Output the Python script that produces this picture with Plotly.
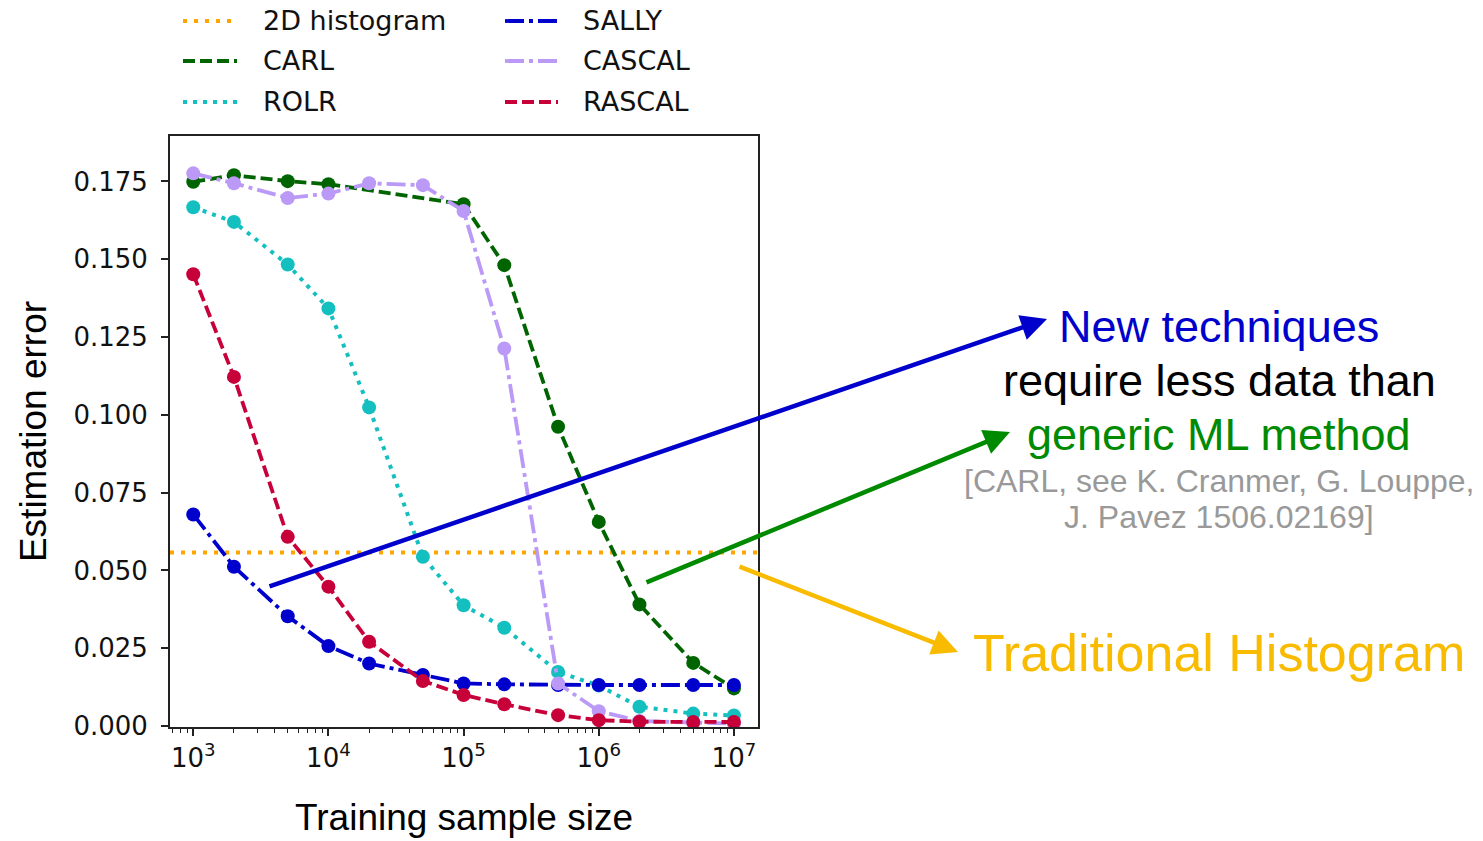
import plotly.graph_objects as go

# Training sample sizes
sample_sizes = [1e3, 2e3, 5e3, 1e4, 2e4, 5e4, 1e5, 2e5, 5e5, 1e6, 2e6, 5e6, 1e7]

# Estimation error per method (None = not evaluated)
carl = [0.1749, 0.1770, 0.1751, 0.1741, None, None, 0.1677, 0.1481, 0.0962, 0.0656, 0.0391, 0.0203, 0.0121]
rolr = [0.1667, 0.1620, 0.1483, 0.1342, 0.1024, 0.0544, 0.0388, 0.0316, 0.0174, 0.0130, 0.0062, 0.0040, 0.0034]
sally = [0.0680, 0.0512, 0.0353, 0.0257, 0.0201, 0.0164, 0.0137, 0.0134, 0.0132, 0.0132, 0.0132, 0.0132, 0.0132]
cascal = [0.1776, 0.1744, 0.1697, 0.1711, 0.1744, 0.1738, 0.1655, 0.1213, 0.0137, 0.0048, 0.0016, 0.0010, 0.0008]
rascal = [0.1452, 0.1122, 0.0608, 0.0448, 0.0271, 0.0145, 0.0100, 0.0070, 0.0035, 0.0019, 0.0014, 0.0013, 0.0013]
hist_2d = 0.0558

y_ticks = [0.0, 0.025, 0.05, 0.075, 0.1, 0.125, 0.15, 0.175]
x_ticks = [1e3, 1e4, 1e5, 1e6, 1e7]
x_ticktext = ["10<sup>3</sup>", "10<sup>4</sup>", "10<sup>5</sup>", "10<sup>6</sup>", "10<sup>7</sup>"]

W, H = 1483, 841
L, R, T, B = 170, 758, 136, 727  # plot area in pixels


def px(x):
    return (x - L) / (R - L)


def py(y):
    return (B - y) / (B - T)


styles = {
    "2D histogram": dict(color="#ffa500", dash="4px,7px", width=4),
    "CARL": dict(color="#006400", dash="12px,5px", width=3.8),
    "ROLR": dict(color="#14bfbf", dash="4px,6px", width=4),
    "SALLY": dict(color="#0000cd", dash="19px,5px,4px,5px", width=3.8),
    "CASCAL": dict(color="#bb99f7", dash="19px,5px,4px,5px", width=3.8),
    "RASCAL": dict(color="#c8003a", dash="12px,5px", width=3.8),
}

series = [("CARL", carl), ("ROLR", rolr), ("SALLY", sally), ("CASCAL", cascal), ("RASCAL", rascal)]

fig = go.Figure()
for name, vals in series:
    st = styles[name]
    fig.add_trace(go.Scatter(
        x=sample_sizes, y=vals, name=name, mode="lines+markers",
        connectgaps=True, showlegend=False,
        line=dict(color=st["color"], dash=st["dash"], width=st["width"]),
        marker=dict(color=st["color"], size=14),
    ))

shapes = []
# horizontal reference level of the 2D histogram
hs = styles["2D histogram"]
shapes.append(dict(type="line", xref="x domain", yref="y", x0=0, x1=1, y0=hist_2d, y1=hist_2d,
                   line=dict(color=hs["color"], dash=hs["dash"], width=hs["width"]), layer="below"))

annotations = []
# two-column legend above the axes
legend_cols = [["2D histogram", "CARL", "ROLR"], ["SALLY", "CASCAL", "RASCAL"]]
col_x = [(183, 237, 261), (505, 558, 581)]
row_y = [21, 61, 102]
for (x0, x1, xt), names in zip(col_x, legend_cols):
    for yy, name in zip(row_y, names):
        st = styles[name]
        shapes.append(dict(type="line", xref="paper", yref="paper", x0=px(x0), x1=px(x1),
                           y0=py(yy), y1=py(yy),
                           line=dict(color=st["color"], dash=st["dash"], width=st["width"])))
        annotations.append(dict(xref="paper", yref="paper", x=px(xt), y=py(yy), text=name,
                                showarrow=False, xanchor="left", yanchor="middle",
                                font=dict(family="DejaVu Sans", size=27, color="#111111")))

# arrows pointing at the curves
arrows = [
    ((1047, 319), (268, 587), "#0000cc"),
    ((1010, 432), (645, 583), "#008a00"),
    ((958, 652), (738, 566), "#f9bb00"),
]
for (hx, hy), (tx, ty), col in arrows:
    annotations.append(dict(xref="paper", yref="paper", x=px(hx), y=py(hy), ax=tx - hx, ay=ty - hy,
                            text="", showarrow=True, arrowhead=2, arrowsize=1.15, arrowwidth=4.5,
                            arrowcolor=col, standoff=0, startstandoff=0))

texts = [
    ("New techniques", 326, 45, "#0000cc"),
    ("require less data than", 380, 45, "#000000"),
    ("generic ML method", 434, 45, "#008a00"),
    ("[CARL, see K. Cranmer, G. Louppe,", 481, 32, "#999999"),
    ("J. Pavez 1506.02169]", 517, 32, "#999999"),
    ("Traditional Histogram", 653, 52, "#f9bb00"),
]
for txt, yy, size, col in texts:
    annotations.append(dict(xref="paper", yref="paper", x=px(1219), y=py(yy), text=txt,
                            showarrow=False, xanchor="center", yanchor="middle",
                            font=dict(family="Liberation Sans", size=size, color=col)))

minor_vals = [m * 10 ** e for e in range(2, 8) for m in range(2, 10)]

fig.update_layout(
    width=W, height=H,
    margin=dict(l=L, r=W - R, t=T, b=H - B, pad=0, autoexpand=False),
    paper_bgcolor="white", plot_bgcolor="white",
    showlegend=False,
    shapes=shapes, annotations=annotations,
    xaxis=dict(
        type="log", range=[2.828, 7.178], automargin=False,
        tickmode="array", tickvals=x_ticks, ticktext=x_ticktext,
        ticks="outside", ticklen=7, tickwidth=1.5, tickcolor="#222222",
        minor=dict(ticks="outside", ticklen=4, tickwidth=1.2, tickcolor="#222222",
                   tickmode="array", tickvals=minor_vals, showgrid=False),
        showgrid=False, zeroline=False,
        showline=True, mirror=True, linecolor="#222222", linewidth=1.8,
        tickfont=dict(family="DejaVu Sans", size=26, color="#111111"),
        title=dict(text="Training sample size", standoff=32,
                   font=dict(family="Liberation Sans", size=37, color="#000000")),
    ),
    yaxis=dict(
        range=[-0.0003, 0.1896], automargin=False,
        tickmode="array", tickvals=y_ticks, tickformat=".3f",
        ticks="outside", ticklen=7, tickwidth=1.5, tickcolor="#222222",
        ticklabelstandoff=8,
        showgrid=False, zeroline=False,
        showline=True, mirror=True, linecolor="#222222", linewidth=1.8,
        tickfont=dict(family="DejaVu Sans", size=26, color="#111111"),
        title=dict(text="Estimation error", standoff=16,
                   font=dict(family="Liberation Sans", size=37, color="#000000")),
    ),
)

fig.write_html("out.html")
